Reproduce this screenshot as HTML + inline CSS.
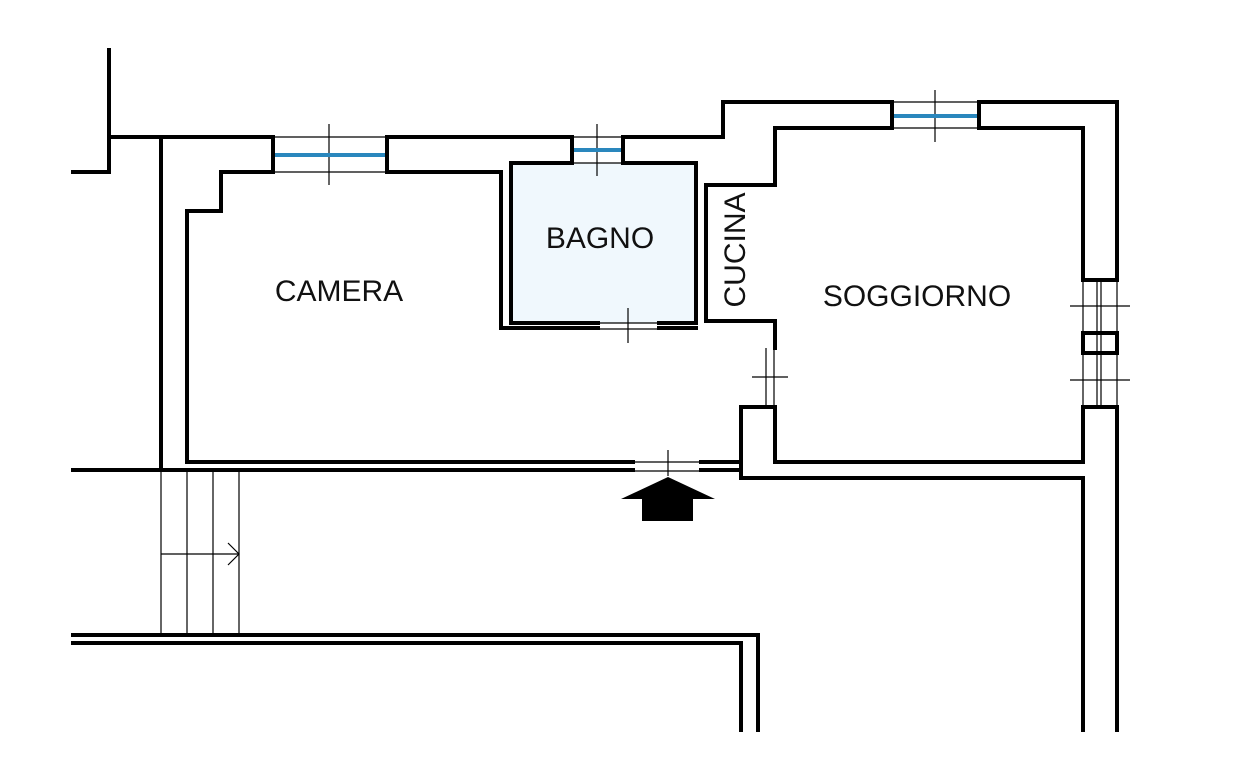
<!DOCTYPE html><html><head><style>body{margin:0;background:#fff}svg{display:block}text{font-family:"Liberation Sans",sans-serif;font-size:30px;fill:#111}</style></head><body>
<svg width="1239" height="779" viewBox="0 0 1239 779" xmlns="http://www.w3.org/2000/svg">
<rect x="511" y="163" width="185" height="160" fill="#f0f8fd"/>
<g fill="none" stroke="#000" stroke-width="4" stroke-linejoin="miter" stroke-linecap="square">
<polyline points="109,50 109,172 73,172"/>
<polyline points="109,137 273,137 273,172 221,172 221,211 187,211 187,462 633,462"/>
<line x1="161" y1="137" x2="161" y2="470"/>
<polyline points="387,137 572,137 572,163 511,163 511,323 598,323"/>
<polyline points="387,137 387,172 501,172 501,328 598,328"/>
<polyline points="623,163 623,137 723,137 723,102 892,102 892,128 775,128 775,185 706,185 706,321 775,321 775,348"/>
<polyline points="623,163 696,163 696,323 659,323"/>
<polyline points="659,328 696,328"/>
<polyline points="979,128 979,102 1117,102 1117,280 1083,280 1083,128 979,128"/>
<polyline points="741,470 741,407 775,407 775,462 1083,462 1083,407 1117,407 1117,730"/>
<rect x="1083" y="333" width="34" height="20"/>
<polyline points="73,470 633,470"/>
<polyline points="701,462 741,462"/>
<polyline points="701,470 741,470 741,478 1083,478 1083,730"/>
<polyline points="73,635 758,635 758,730"/>
<polyline points="73,643 741,643 741,730"/>
</g>
<g stroke="#000" stroke-width="1.2" fill="none">
<line x1="273" y1="137" x2="387" y2="137"/><line x1="273" y1="172" x2="387" y2="172"/><line x1="329" y1="124" x2="329" y2="185"/>
<line x1="572" y1="137" x2="623" y2="137"/><line x1="572" y1="163" x2="623" y2="163"/><line x1="597" y1="124" x2="597" y2="176"/>
<line x1="892" y1="102" x2="979" y2="102"/><line x1="892" y1="128" x2="979" y2="128"/><line x1="935" y1="90" x2="935" y2="142"/>
<line x1="598" y1="323" x2="659" y2="323"/><line x1="598" y1="329" x2="659" y2="329"/><line x1="628" y1="308" x2="628" y2="343"/>
<line x1="766" y1="348" x2="766" y2="407"/><line x1="774" y1="348" x2="774" y2="407"/><line x1="752" y1="377" x2="788" y2="377"/>
<line x1="633" y1="462" x2="701" y2="462"/><line x1="633" y1="471" x2="701" y2="471"/><line x1="668" y1="450" x2="668" y2="476"/>
<line x1="1083" y1="280" x2="1083" y2="407"/><line x1="1097" y1="280" x2="1097" y2="407"/><line x1="1101" y1="280" x2="1101" y2="407"/><line x1="1117" y1="280" x2="1117" y2="407"/>
<line x1="1070" y1="306" x2="1130" y2="306"/><line x1="1070" y1="380" x2="1130" y2="380"/>
<line x1="161" y1="470" x2="161" y2="635"/><line x1="187" y1="470" x2="187" y2="635"/><line x1="213" y1="470" x2="213" y2="635"/><line x1="239" y1="470" x2="239" y2="635"/>
<line x1="161" y1="554" x2="239" y2="554"/><polyline points="228,543 239,554 228,565"/>
</g>
<g stroke="#2a87bd" stroke-width="4">
<line x1="275" y1="155" x2="385" y2="155"/><line x1="574" y1="150" x2="621" y2="150"/><line x1="894" y1="116" x2="977" y2="116"/>
</g>
<polygon points="668,477 715,499 693,499 693,521 642,521 642,499 621,499" fill="#000"/>
<text x="339" y="301" text-anchor="middle">CAMERA</text>
<text x="600" y="248" text-anchor="middle">BAGNO</text>
<text x="917" y="306" text-anchor="middle">SOGGIORNO</text>
<text transform="translate(745,250) rotate(-90)" text-anchor="middle">CUCINA</text>
</svg></body></html>
